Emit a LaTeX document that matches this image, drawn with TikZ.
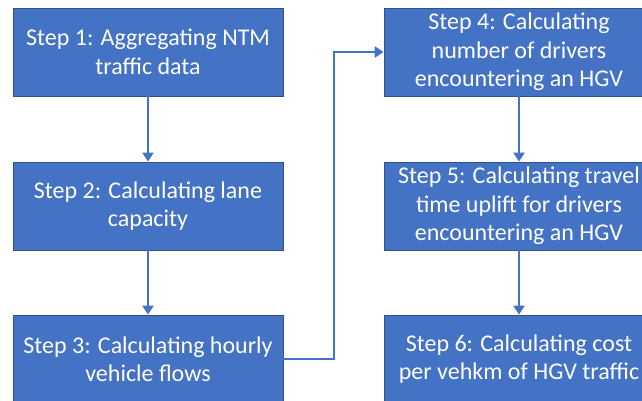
\documentclass[tikz,border=0pt]{standalone}
\usepackage{fontspec}
\setmainfont{Carlito}
\usetikzlibrary{arrows.meta}
\definecolor{stepfill}{HTML}{4472C4}
\definecolor{stepline}{HTML}{2F528F}
\begin{document}
\begin{tikzpicture}[x=1pt,y=-1pt,
  stepbox/.style={draw=stepline, line width=0.8pt, fill=stepfill,
    minimum width=270pt, minimum height=88pt, inner sep=0pt,
    align=center, text=white, font=\fontsize{24}{28.5}\selectfont},
  flow/.style={draw=stepfill, line width=2.8pt,
    -{Triangle[width=11pt,length=9pt]}}]
  \useasboundingbox (0,0) rectangle (642,400);
  \clip (0,0) rectangle (642,400);
  \fill[white] (0,0) rectangle (642,400);

  % left column
  \node[stepbox] (s1) at (148,52)  {Step 1: Aggregating NTM\\traffic data};
  \node[stepbox] (s2) at (148,206) {Step 2: Calculating lane\\capacity};
  \node[stepbox] (s3) at (148,359) {Step 3: Calculating hourly\\vehicle flows};

  % right column
  \node[stepbox] (s4) at (519,52)  {Step 4: Calculating\\number of drivers\\encountering an HGV};
  \node[stepbox] (s5) at (519,206) {Step 5: Calculating travel\\time uplift for drivers\\encountering an HGV};
  \node[stepbox] (s6) at (519,359) {Step 6: Calculating cost\\per vehkm of HGV traffic};

  \coordinate (bend) at (334,52);

  \draw[flow] (s1) -- (s2);
  \draw[flow] (s2) -- (s3);
  \draw[flow] (s3.east) -| (bend) -- (s4.west);
  \draw[flow] (s4) -- (s5);
  \draw[flow] (s5) -- (s6);
\end{tikzpicture}
\end{document}
